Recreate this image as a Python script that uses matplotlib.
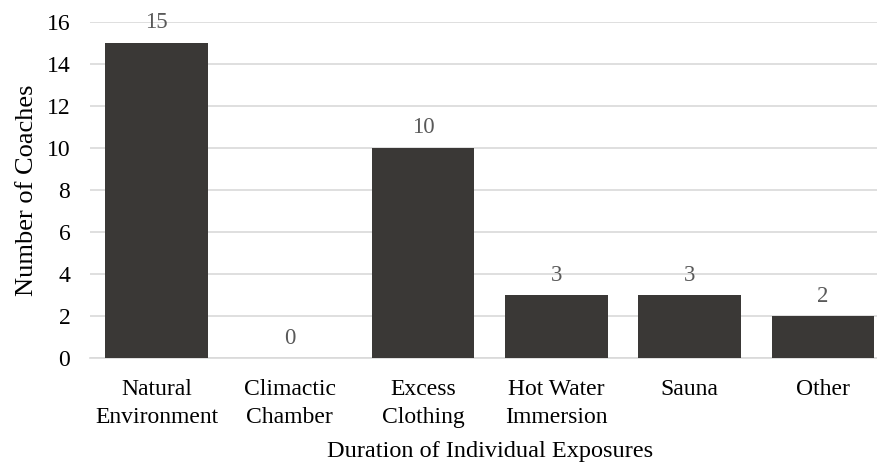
import matplotlib.pyplot as plt

# Chart data
categories = ['Natural\nEnvironment', 'Climactic\nChamber', 'Excess\nClothing',
              'Hot Water\nImmersion', 'Sauna', 'Other']
coaches = [15, 0, 10, 3, 3, 2]
y_ticks = [0, 2, 4, 6, 8, 10, 12, 14, 16]

plt.rcParams['font.family'] = ['Liberation Serif', 'DejaVu Serif']

fig = plt.figure(figsize=(8.77, 4.65), dpi=100)
# the plot area runs a little past the right edge of the picture
ax = fig.add_axes([0.1024, 0.230, 0.9122, 0.723])

x = range(len(categories))
bars = ax.bar(x, coaches, width=0.77, color='#3a3836', zorder=3)

# Value labels above the bars
for xi, v in zip(x, coaches):
    ax.text(xi, v + 0.45, str(v), ha='center', va='bottom', fontsize=16.5, color='#595959')

ax.set_xlim(-0.5, len(categories) - 0.5)
ax.set_ylim(0, 16)
ax.set_yticks(y_ticks)
ax.set_xticks(list(x))
ax.set_xticklabels(categories, fontsize=17, linespacing=1.45)
ax.tick_params(axis='y', labelsize=17, length=0, pad=14)
ax.tick_params(axis='x', length=0, pad=15)

# Light gridlines, no frame except the baseline
ax.grid(axis='y', color='#d9d9d9', linewidth=1.2, zorder=0)
for side in ['top', 'right', 'left']:
    ax.spines[side].set_visible(False)
ax.spines['bottom'].set_color('#d9d9d9')
ax.spines['bottom'].set_linewidth(1.2)

ax.set_xlabel('Duration of Individual Exposures', fontsize=17.5, labelpad=9)
ax.set_ylabel('Number of Coaches', fontsize=19, labelpad=6)

plt.savefig('out.png', dpi=100)
